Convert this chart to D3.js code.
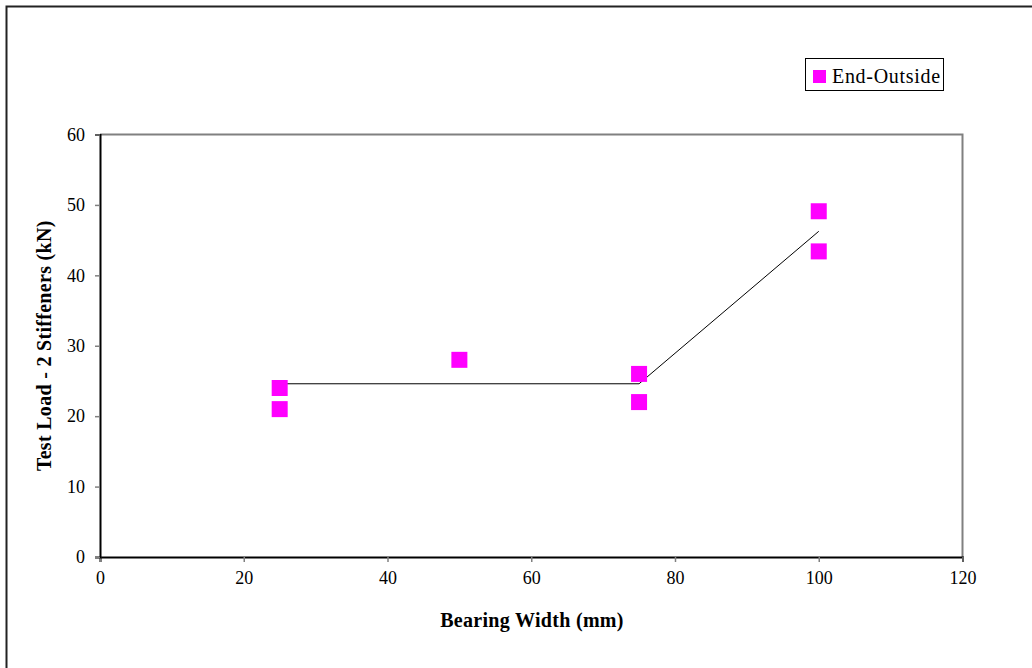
<!DOCTYPE html>
<html>
<head>
<meta charset="utf-8">
<script src="https://cdn.jsdelivr.net/npm/d3@7"></script>
<style>
  html, body { margin: 0; padding: 0; background: #fff; }
  svg { display: block; }
  text { font-family: "Liberation Serif", "Times New Roman", serif; fill: #000; }
</style>
</head>
<body>
<svg id="chart" width="1032" height="668"></svg>
<script>
// Measured bearing widths (mm) and test loads (kN)
const bearingWidth = [25, 25, 50, 75, 75, 100, 100];
const testLoad = [24.0, 21.0, 28.0, 26.0, 22.0, 49.1, 43.4];

// Design curve: plateau then linear rise
const fitWidth = [25, 75, 100];
const fitLoad = [24.6, 24.6, 46.25];

const xTicks = [0, 20, 40, 60, 80, 100, 120];
const yTicks = [0, 10, 20, 30, 40, 50, 60];
const seriesName = "End-Outside";
const xTitle = "Bearing Width (mm)";
const yTitle = "Test Load - 2 Stiffeners (kN)";

const svg = d3.select("#chart");

// outer frame
svg.append("rect")
  .attr("x", 6.5).attr("y", 6.5)
  .attr("width", 1040).attr("height", 680)
  .attr("fill", "none").attr("stroke", "#222").attr("stroke-width", 2);

const plot = { left: 100, top: 134.5, right: 962.5, bottom: 557 };

const x = d3.scaleLinear().domain([0, 120]).range([plot.left, plot.right]);
const y = d3.scaleLinear().domain([0, 60]).range([plot.bottom, plot.top]);

// plot area border (top and right)
svg.append("path")
  .attr("d", `M${plot.left},${plot.top}H${plot.right}V${plot.bottom}`)
  .attr("fill", "none").attr("stroke", "#808080").attr("stroke-width", 2);

// axes
const xAxis = d3.axisBottom(x).tickValues(xTicks).tickSize(5).tickPadding(9).tickFormat(d3.format("d"));
const yAxis = d3.axisLeft(y).tickValues(yTicks).tickSize(5).tickPadding(10).tickFormat(d3.format("d"));

const gx = svg.append("g").attr("transform", `translate(0,${plot.bottom})`).call(xAxis);
const gy = svg.append("g").attr("transform", `translate(${plot.left},0)`).call(yAxis);

[gx, gy].forEach(g => {
  g.select(".domain").attr("stroke", "#000").attr("stroke-width", 2);
  g.selectAll(".tick line").attr("stroke", "#808080").attr("stroke-width", 1.5);
  g.selectAll(".tick text")
    .attr("font-family", "'Liberation Serif', 'Times New Roman', serif")
    .attr("font-size", 18).attr("fill", "#000");
});

// fitted line
const line = d3.line().x(d => x(d[0])).y(d => y(d[1]));
svg.append("path")
  .datum(fitWidth.map((w, i) => [w, fitLoad[i]]))
  .attr("d", line)
  .attr("fill", "none").attr("stroke", "#000").attr("stroke-width", 1);

// data markers
const size = 16;
svg.append("g").selectAll("rect")
  .data(bearingWidth.map((w, i) => [w, testLoad[i]]))
  .join("rect")
  .attr("x", d => x(d[0]) - size / 2)
  .attr("y", d => y(d[1]) - size / 2)
  .attr("width", size).attr("height", size)
  .attr("fill", "#ff00ff");

// axis titles
svg.append("text")
  .attr("x", 532).attr("y", 627)
  .attr("text-anchor", "middle")
  .attr("font-size", 20).attr("font-weight", "bold")
  .attr("letter-spacing", 0.3)
  .text(xTitle);

svg.append("text")
  .attr("transform", `translate(51,${(plot.top + plot.bottom) / 2}) rotate(-90)`)
  .attr("text-anchor", "middle")
  .attr("font-size", 20).attr("font-weight", "bold")
  .attr("letter-spacing", 0.3)
  .text(yTitle);

// legend
const lg = svg.append("g");
lg.append("rect")
  .attr("x", 805.5).attr("y", 58.5).attr("width", 138).attr("height", 32)
  .attr("fill", "#fff").attr("stroke", "#000").attr("stroke-width", 1);
lg.append("rect")
  .attr("x", 813).attr("y", 70).attr("width", 13).attr("height", 13)
  .attr("fill", "#ff00ff");
lg.append("text")
  .attr("x", 832).attr("y", 83)
  .attr("font-size", 20)
  .attr("letter-spacing", 0.7)
  .text(seriesName);
</script>
</body>
</html>
